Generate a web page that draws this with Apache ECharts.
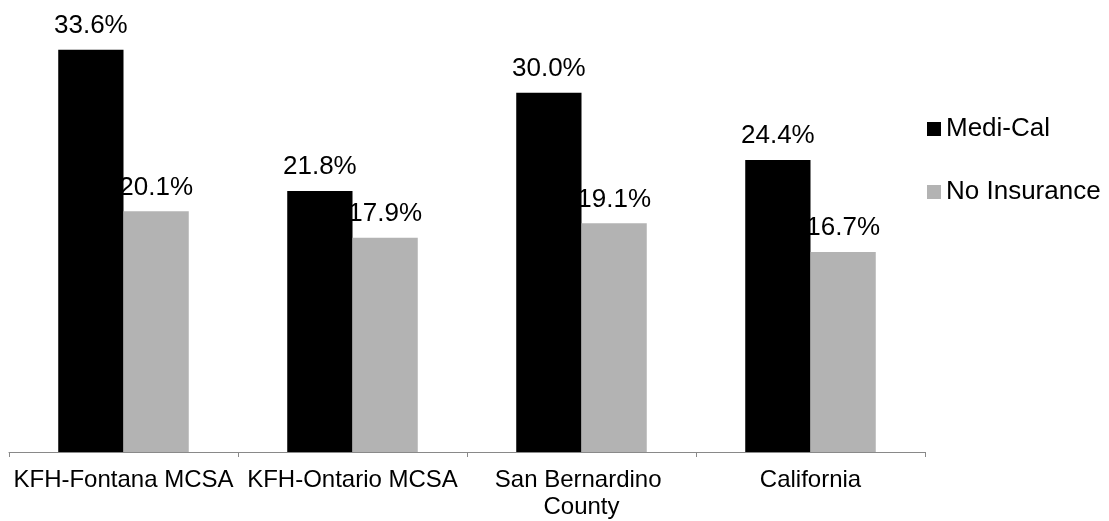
<!DOCTYPE html>
<html>
<head>
<meta charset="utf-8">
<script src="https://cdn.jsdelivr.net/npm/echarts@6/dist/echarts.min.js"></script>
<style>
html,body{margin:0;padding:0;background:#fff;}
#chart{width:1109px;height:521px;}
</style>
</head>
<body>
<div id="chart"></div>
<script>
const categories = ["KFH-Fontana MCSA", "KFH-Ontario MCSA", "San Bernardino County", "California"];
const mediCal = [33.6, 21.8, 30.0, 24.4];
const noInsurance = [20.1, 17.9, 19.1, 16.7];
const seriesNames = ["Medi-Cal", "No Insurance"];

const FONT = "'Liberation Sans', Arial, sans-serif";
const chart = echarts.init(document.getElementById('chart'), null, {renderer: 'canvas'});
const labelCfg = {
  show: true,
  position: 'top',
  distance: 11,
  color: '#000',
  fontFamily: FONT,
  fontSize: 26,
  formatter: p => p.value.toFixed(1) + '%'
};
chart.setOption({
  animation: false,
  backgroundColor: '#ffffff',
  grid: {left: 9, right: 184, top: 33, bottom: 68, containLabel: false},
  legend: {
    orient: 'vertical',
    left: 927,
    top: 116,
    padding: 0,
    itemWidth: 14,
    itemHeight: 14,
    itemGap: 37,
    icon: 'rect',
    textStyle: {fontFamily: FONT, fontSize: 26, color: '#000'},
    data: seriesNames
  },
  xAxis: {
    type: 'category',
    data: categories,
    axisLine: {lineStyle: {color: '#898989', width: 1}},
    axisTick: {show: true, length: 5, lineStyle: {color: '#898989'}},
    axisLabel: {
      interval: 0,
      margin: 15,
      color: '#000',
      fontFamily: FONT,
      fontSize: 24,
      lineHeight: 27,
      width: 228,
      overflow: 'break'
    }
  },
  yAxis: {
    type: 'value',
    min: 0,
    max: 35,
    show: false,
    splitLine: {show: false}
  },
  series: [
    {
      name: seriesNames[0],
      type: 'bar',
      data: mediCal,
      barGap: '0%',
      barCategoryGap: '43%',
      itemStyle: {color: '#000000'},
      label: labelCfg
    },
    {
      name: seriesNames[1],
      type: 'bar',
      data: noInsurance,
      barGap: '0%',
      barCategoryGap: '43%',
      itemStyle: {color: '#b3b3b3'},
      label: labelCfg
    }
  ]
});
</script>
</body>
</html>
